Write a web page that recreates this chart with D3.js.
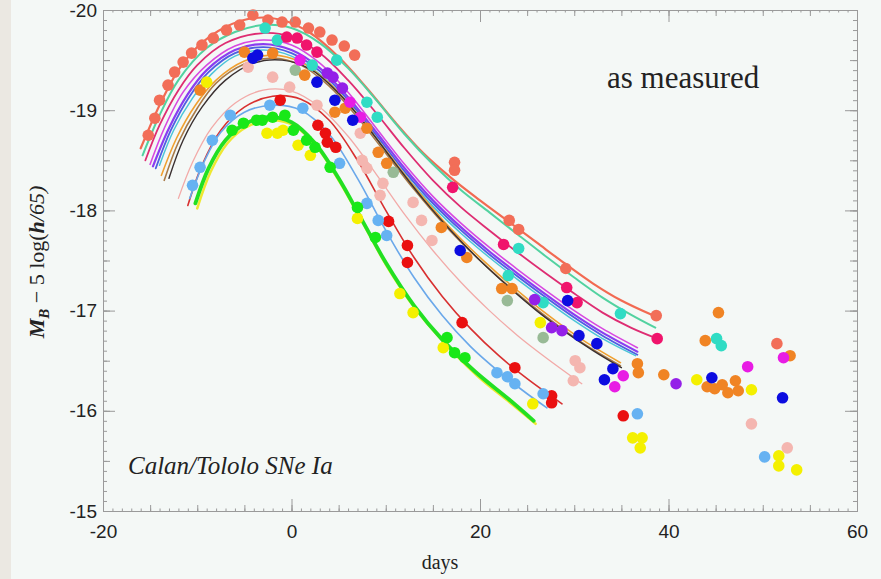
<!DOCTYPE html>
<html>
<head>
<meta charset="utf-8">
<script src="https://cdn.jsdelivr.net/npm/d3@7"></script>
<style>
  body { margin: 0; background: #f4f8f6; }
  .strip { position: absolute; left: 0; top: 0; width: 11px; height: 579px; background: #ebe8e2; }
</style>
</head>
<body>
<div class="strip"></div>
<div id="chart"></div>
<script>
// axis ticks
const xTicks = [-20, 0, 20, 40, 60]
const yTicks = [-20, -19, -18, -17, -16, -15]

// fitted light curves [day, M_B]
const salmonLine = [[-16,-18.62],[-14,-19.05],[-12,-19.4],[-10,-19.63],[-7,-19.83],[-4,-19.92],[-1,-19.9],[2,-19.77],[5,-19.53],[8,-19.22],[11,-18.88],[14,-18.57],[17,-18.32],[20,-18.1],[23,-17.89],[26,-17.68],[29,-17.47],[32,-17.27],[35,-17.1],[38.4,-16.95]]
const tealLine = [[-15.8,-18.55],[-14,-18.95],[-12,-19.3],[-9,-19.62],[-6,-19.78],[-3,-19.85],[0,-19.82],[3,-19.67],[6,-19.42],[9,-19.1],[12,-18.76],[15,-18.46],[18,-18.2],[21,-17.98],[24,-17.76],[27,-17.54],[30,-17.33],[33,-17.13],[36,-16.96],[38.6,-16.83]]
const pinkLine = [[-15.5,-18.5],[-14,-18.85],[-12,-19.2],[-10,-19.45],[-7,-19.67],[-3,-19.77],[0,-19.73],[3,-19.57],[6,-19.3],[9,-18.97],[12,-18.62],[15,-18.3],[18,-18.03],[21,-17.8],[24,-17.58],[27,-17.37],[30,-17.17],[33,-16.98],[36,-16.83],[38.8,-16.72]]
const magentaLine = [[-15,-18.46],[-13.5,-18.82],[-11.5,-19.18],[-9,-19.45],[-6,-19.64],[-3,-19.7],[0,-19.65],[3,-19.47],[6,-19.18],[9,-18.82],[12,-18.46],[15,-18.14],[18,-17.87],[21,-17.63],[24,-17.41],[27,-17.2],[30,-17.0],[33,-16.82],[36.7,-16.63]]
const purpleLine = [[-14.7,-18.44],[-13,-18.82],[-11,-19.16],[-9,-19.4],[-6,-19.6],[-3,-19.66],[0,-19.6],[3,-19.42],[6,-19.13],[9,-18.78],[12,-18.42],[15,-18.1],[18,-17.83],[21,-17.59],[24,-17.37],[27,-17.16],[30,-16.96],[33,-16.78],[36.7,-16.59]]
const blueLine = [[-14.4,-18.42],[-12.8,-18.8],[-10.8,-19.14],[-8.8,-19.38],[-6,-19.57],[-3,-19.63],[0,-19.57],[3,-19.39],[6,-19.1],[9,-18.75],[12,-18.39],[15,-18.07],[18,-17.8],[21,-17.56],[24,-17.34],[27,-17.13],[30,-16.93],[33,-16.75],[36.7,-16.56]]
const cyanLine = [[-14,-18.45],[-12.5,-18.8],[-10.5,-19.12],[-8.5,-19.36],[-6,-19.54],[-3,-19.6],[0,-19.54],[3,-19.36],[6,-19.07],[9,-18.72],[12,-18.36],[15,-18.04],[18,-17.77],[21,-17.53],[24,-17.31],[27,-17.1],[30,-16.9],[33,-16.72],[36.5,-16.55]]
const orangeLine = [[-13.8,-18.35],[-12.2,-18.72],[-10.2,-19.05],[-8,-19.3],[-5,-19.49],[-2,-19.55],[1,-19.48],[4,-19.27],[7,-18.96],[10,-18.6],[13,-18.24],[16,-17.91],[19,-17.62],[22,-17.36],[25,-17.12],[28,-16.9],[31,-16.7],[34.9,-16.48]]
const brownLine = [[-13.5,-18.3],[-12,-18.68],[-10,-19.02],[-8,-19.27],[-5,-19.46],[-2,-19.52],[1,-19.45],[4,-19.24],[7,-18.93],[10,-18.57],[13,-18.21],[16,-17.88],[19,-17.59],[22,-17.33],[25,-17.09],[28,-16.87],[31,-16.67],[34.9,-16.45]]
const blackLine = [[-13,-18.32],[-11.5,-18.7],[-9.5,-19.03],[-7,-19.3],[-4,-19.47],[-1,-19.5],[2,-19.41],[5,-19.17],[8,-18.84],[11,-18.47],[14,-18.11],[17,-17.79],[20,-17.5],[23,-17.24],[26,-17.0],[29,-16.79],[32,-16.6],[35,-16.43]]
const lightPinkLine = [[-12,-18.12],[-10.5,-18.48],[-8.5,-18.82],[-6,-19.07],[-3,-19.2],[0,-19.19],[3,-19.03],[6,-18.74],[9,-18.36],[12,-17.96],[15,-17.6],[18,-17.28],[21,-17.0],[24,-16.75],[27,-16.53],[30.8,-16.27]]
const redLine = [[-11,-18.05],[-9.5,-18.45],[-7.5,-18.8],[-5,-19.03],[-2,-19.14],[1,-19.11],[4,-18.9],[7,-18.5],[10,-18.0],[13,-17.53],[16,-17.14],[19,-16.82],[22,-16.55],[25,-16.32],[28.7,-16.07]]
const lightBlueLine = [[-10.8,-18.12],[-9.3,-18.48],[-7.5,-18.78],[-5,-18.98],[-2,-19.05],[1,-19.0],[4,-18.76],[7,-18.32],[10,-17.8],[13,-17.33],[16,-16.95],[19,-16.64],[22,-16.39],[25,-16.17],[27.1,-16.03]]
const yellowLine = [[-10,-18.02],[-8.6,-18.38],[-6.8,-18.67],[-4.8,-18.83],[-2.3,-18.9],[0.2,-18.85],[2.7,-18.63],[5.2,-18.27],[7.7,-17.85],[10.2,-17.43],[13.2,-17.01],[16.2,-16.68],[19.7,-16.35],[23.2,-16.08],[25.9,-15.87]]
const greenLine = [[-10.2,-18.07],[-8.8,-18.42],[-7,-18.7],[-5,-18.86],[-2.5,-18.93],[0,-18.88],[2.5,-18.67],[5,-18.32],[7.5,-17.9],[10,-17.48],[13,-17.05],[16,-16.71],[19.5,-16.39],[23,-16.12],[25.7,-15.9]]

// measured points [day, M_B]
const salmonDots = [[-15.2,-18.75],[-14.5,-18.92],[-14,-19.1],[-13.1,-19.25],[-12.4,-19.38],[-11.5,-19.48],[-10.6,-19.57],[-9.5,-19.65],[-8.3,-19.72],[-6.9,-19.8],[-5.5,-19.85],[-4.1,-19.95],[-2.5,-19.9],[-1,-19.88],[0.4,-19.88],[1.8,-19.82],[3,-19.78],[4.3,-19.7],[5.6,-19.64],[6.7,-19.55],[17.3,-18.48],[17.3,-18.4],[23.1,-17.9],[24.1,-17.81],[29.1,-17.42],[38.7,-16.95],[51.5,-16.67]]
const cyanDots = [[-2.8,-19.82],[-1.5,-19.7],[2.2,-19.45],[4.8,-19.5],[8,-19.08],[9.1,-18.93],[23,-17.35],[24.1,-17.62],[26.7,-17.08],[34.9,-16.97],[45.1,-16.72],[45.6,-16.65]]
const hotPinkDots = [[-0.5,-19.73],[0.6,-19.72],[1.6,-19.65],[2.7,-19.58],[17.1,-18.23],[22.5,-17.66],[29.2,-17.23],[30.3,-17.08],[38.8,-16.72]]
const magentaDots = [[0.9,-19.5],[6.2,-19.08],[7.3,-18.93],[35.2,-16.35],[34.3,-16.24],[48.4,-16.44],[52.2,-16.53]]
const purpleDots = [[3.8,-19.37],[4.4,-19.33],[5.4,-19.22],[25.8,-17.11],[27.6,-16.83],[28.7,-16.8],[40.8,-16.27]]
const blueDots = [[-4.1,-19.52],[-3.6,-19.55],[2.7,-19.28],[4.6,-19.1],[6.5,-18.9],[17.9,-17.6],[29.3,-17.1],[30.5,-16.75],[32.4,-16.67],[34.1,-16.42],[33.2,-16.31],[44.6,-16.33],[52.1,-16.13]]
const orangeDots = [[-9.7,-19.2],[-5,-19.58],[-2,-19.57],[1.4,-19.35],[4.6,-18.98],[5.7,-19.02],[8,-18.82],[9.2,-18.58],[10.1,-18.47],[15.9,-17.83],[18.6,-17.53],[22.3,-17.22],[23.4,-17.22],[36.7,-16.47],[36.8,-16.38],[39.5,-16.36],[43.9,-16.7],[44.1,-16.24],[44.9,-16.22],[45.7,-16.26],[46.3,-16.18],[47.1,-16.3],[47.4,-16.2],[45.3,-16.98],[52.9,-16.55]]
const yellowDots = [[-9,-19.28],[-2.6,-18.77],[-1.5,-18.77],[-0.9,-18.8],[0.7,-18.65],[2,-18.55],[7,-17.92],[11.5,-17.17],[12.9,-16.98],[16.1,-16.63],[25.6,-16.07],[26.4,-16.88],[43,-16.31],[36.2,-15.73],[37.2,-15.73],[37,-15.63],[48.8,-16.21],[51.7,-15.55],[51.7,-15.45],[53.6,-15.41]]
const lightPinkDots = [[-4.6,-19.43],[-2,-19.33],[-0.2,-19.23],[2.7,-19.05],[7.3,-18.77],[7.5,-18.5],[8,-18.42],[9.4,-18.15],[9.7,-18.27],[12.9,-18.08],[13.8,-17.9],[14.9,-17.7],[30.1,-16.5],[30.6,-16.43],[29.9,-16.3],[48.8,-15.87],[52.6,-15.63]]
const sageDots = [[0.4,-19.4],[10.8,-18.38],[22.9,-17.1],[26.7,-16.73]]
const redDots = [[-1.2,-19.1],[2.8,-18.85],[3.6,-18.77],[3.8,-18.68],[4.7,-18.63],[10.3,-17.89],[12.3,-17.65],[12.3,-17.48],[18.1,-16.88],[23.7,-16.43],[27.6,-16.15],[27.6,-16.08],[35.2,-15.95]]
const lightBlueDots = [[-10.5,-18.25],[-9.7,-18.43],[-8.4,-18.7],[-6.5,-18.95],[-2.3,-19.05],[1.2,-19.02],[5.1,-18.47],[8,-18.07],[9.2,-17.9],[10.1,-17.75],[21.8,-16.38],[22.9,-16.34],[23.7,-16.27],[26.7,-16.17],[36.7,-15.97],[50.2,-15.54]]
const greenDots = [[-6.3,-18.8],[-5.1,-18.87],[-3.7,-18.9],[-3.1,-18.9],[-2,-18.93],[-0.7,-18.95],[0.2,-18.8],[1.6,-18.7],[2.5,-18.63],[4.1,-18.43],[7,-18.03],[8.9,-17.73],[16.5,-16.73],[17.3,-16.58],[18.4,-16.53]]

const margin = {top: 10, right: 24, bottom: 68, left: 103},
    width = 881 - margin.left - margin.right,
    height = 579 - margin.top - margin.bottom

const svg = d3.select('#chart')
    .append('svg')
    .attr('width', 881)
    .attr('height', 579)
    .style('position', 'absolute')
    .style('left', 0).style('top', 0)

const g = svg.append('g')
    .attr('transform', 'translate('+margin.left+','+margin.top+')')

const xScale = d3.scaleLinear().domain([-20, 60]).range([0, width])
const yScale = d3.scaleLinear().domain([-20, -15]).range([0, height])

const line = d3.line()
    .curve(d3.curveCatmullRom)
    .x(d => xScale(d[0]))
    .y(d => yScale(d[1]))

const lines = [
    [salmonLine, '#f26a52', 2.2],
    [tealLine, '#52d2a0', 2],
    [pinkLine, '#de2d72', 1.8],
    [magentaLine, '#d848e0', 1.6],
    [purpleLine, '#8a3ef0', 2.2],
    [blueLine, '#4f5ee2', 1.8],
    [cyanLine, '#4cc4d8', 1.5],
    [orangeLine, '#f0a030', 1.6],
    [brownLine, '#a87a48', 1.6],
    [blackLine, '#3a3030', 1.4],
    [lightPinkLine, '#f2aaa8', 1.3],
    [redLine, '#d83030', 1.6],
    [lightBlueLine, '#6aa8ea', 1.6],
    [yellowLine, '#eee830', 2.5],
    [greenLine, '#22e022', 3.8]
]

g.append('g').selectAll('path')
    .data(lines)
    .enter()
    .append('path')
    .attr('d', d => line(d[0]))
    .attr('fill', 'none')
    .attr('stroke', d => d[1])
    .attr('stroke-width', d => d[2])
    .attr('stroke-linecap', 'round')

const dotSets = [
    [lightPinkDots, '#f4b6b0'],
    [sageDots, '#98ba96'],
    [salmonDots, '#f26e58'],
    [cyanDots, '#30dcc4'],
    [orangeDots, '#f08424'],
    [yellowDots, '#f4f000'],
    [hotPinkDots, '#f0146c'],
    [magentaDots, '#e81ce4'],
    [purpleDots, '#9420e8'],
    [blueDots, '#0c0ce0'],
    [redDots, '#ea1010'],
    [lightBlueDots, '#66b2f2'],
    [greenDots, '#18e818']
]

dotSets.forEach(([pts, color]) => {
    g.append('g').selectAll('circle')
        .data(pts)
        .enter()
        .append('circle')
        .attr('cx', d => xScale(d[0]))
        .attr('cy', d => yScale(d[1]))
        .attr('r', 5.8)
        .attr('fill', color)
})

// frame + ticks (all pointing inward)
const axisColor = '#9a9a9a'
const fmt = d => String(d)

function styleAxis(sel) {
    sel.select('.domain').attr('stroke', axisColor)
    sel.selectAll('.tick line').attr('stroke', axisColor)
    sel.selectAll('.tick text')
        .attr('fill', '#222')
        .attr('font-family', 'Liberation Sans, Arial, sans-serif')
        .attr('font-size', 19)
}

const dayMinor = d3.range(-20, 61, 1)
const dayMid = d3.range(-20, 61, 5)
const magMinor = d3.range(-200, -149, 1).map(v => v / 10)
const magMid = d3.range(-200, -149, 5).map(v => v / 10)

// bottom
g.append('g').attr('transform', 'translate(0,'+height+')')
    .call(d3.axisBottom(xScale).tickValues(dayMinor).tickSize(-2.5).tickFormat(''))
    .call(styleAxis)
g.append('g').attr('transform', 'translate(0,'+height+')')
    .call(d3.axisBottom(xScale).tickValues(dayMid).tickSize(-6).tickFormat(''))
    .call(styleAxis)
g.append('g').attr('transform', 'translate(0,'+height+')')
    .call(d3.axisBottom(xScale).tickValues(xTicks).tickSizeInner(-12).tickSizeOuter(0).tickPadding(14).tickFormat(fmt))
    .call(styleAxis)
// top
g.append('g')
    .call(d3.axisTop(xScale).tickValues(dayMinor).tickSize(-2.5).tickFormat(''))
    .call(styleAxis)
g.append('g')
    .call(d3.axisTop(xScale).tickValues(dayMid).tickSize(-6).tickFormat(''))
    .call(styleAxis)
g.append('g')
    .call(d3.axisTop(xScale).tickValues(xTicks).tickSize(-12).tickFormat(''))
    .call(styleAxis)
// left
g.append('g')
    .call(d3.axisLeft(yScale).tickValues(magMinor).tickSize(-4).tickFormat(''))
    .call(styleAxis)
g.append('g')
    .call(d3.axisLeft(yScale).tickValues(magMid).tickSize(-7).tickFormat(''))
    .call(styleAxis)
g.append('g')
    .call(d3.axisLeft(yScale).tickValues(yTicks).tickSizeInner(-12).tickSizeOuter(0).tickPadding(6).tickFormat(fmt))
    .call(styleAxis)
// right
g.append('g').attr('transform', 'translate('+width+',0)')
    .call(d3.axisRight(yScale).tickValues(magMinor).tickSize(-4).tickFormat(''))
    .call(styleAxis)
g.append('g').attr('transform', 'translate('+width+',0)')
    .call(d3.axisRight(yScale).tickValues(magMid).tickSize(-7).tickFormat(''))
    .call(styleAxis)
g.append('g').attr('transform', 'translate('+width+',0)')
    .call(d3.axisRight(yScale).tickValues(yTicks).tickSize(-12).tickFormat(''))
    .call(styleAxis)

// labels
const serif = 'Liberation Serif, Times New Roman, serif'

svg.append('text')
    .attr('x', 440)
    .attr('y', 569)
    .attr('text-anchor', 'middle')
    .attr('font-family', serif)
    .attr('font-size', 20)
    .attr('fill', '#222')
    .text('days')

const yl = svg.append('text')
    .attr('transform', 'translate(44,262) rotate(-90)')
    .attr('text-anchor', 'middle')
    .attr('font-family', serif)
    .attr('font-size', 22)
    .attr('fill', '#222')
yl.append('tspan').attr('font-weight', 'bold').attr('font-style', 'italic').text('M')
yl.append('tspan').attr('font-weight', 'bold').attr('font-style', 'italic').attr('font-size', 15).attr('dy', 5).text('B')
yl.append('tspan').attr('dy', -5).text(' \u2212 5 log(')
yl.append('tspan').attr('font-weight', 'bold').attr('font-style', 'italic').text('h')
yl.append('tspan').attr('font-style', 'italic').text('/65)')

svg.append('text')
    .attr('x', 607)
    .attr('y', 88)
    .attr('font-family', serif)
    .attr('font-size', 31)
    .attr('fill', '#222')
    .text('as measured')

svg.append('text')
    .attr('x', 128)
    .attr('y', 474)
    .attr('font-family', serif)
    .attr('font-style', 'italic')
    .attr('font-size', 25)
    .attr('fill', '#222')
    .text('Calan/Tololo SNe Ia')
</script>
</body>
</html>
